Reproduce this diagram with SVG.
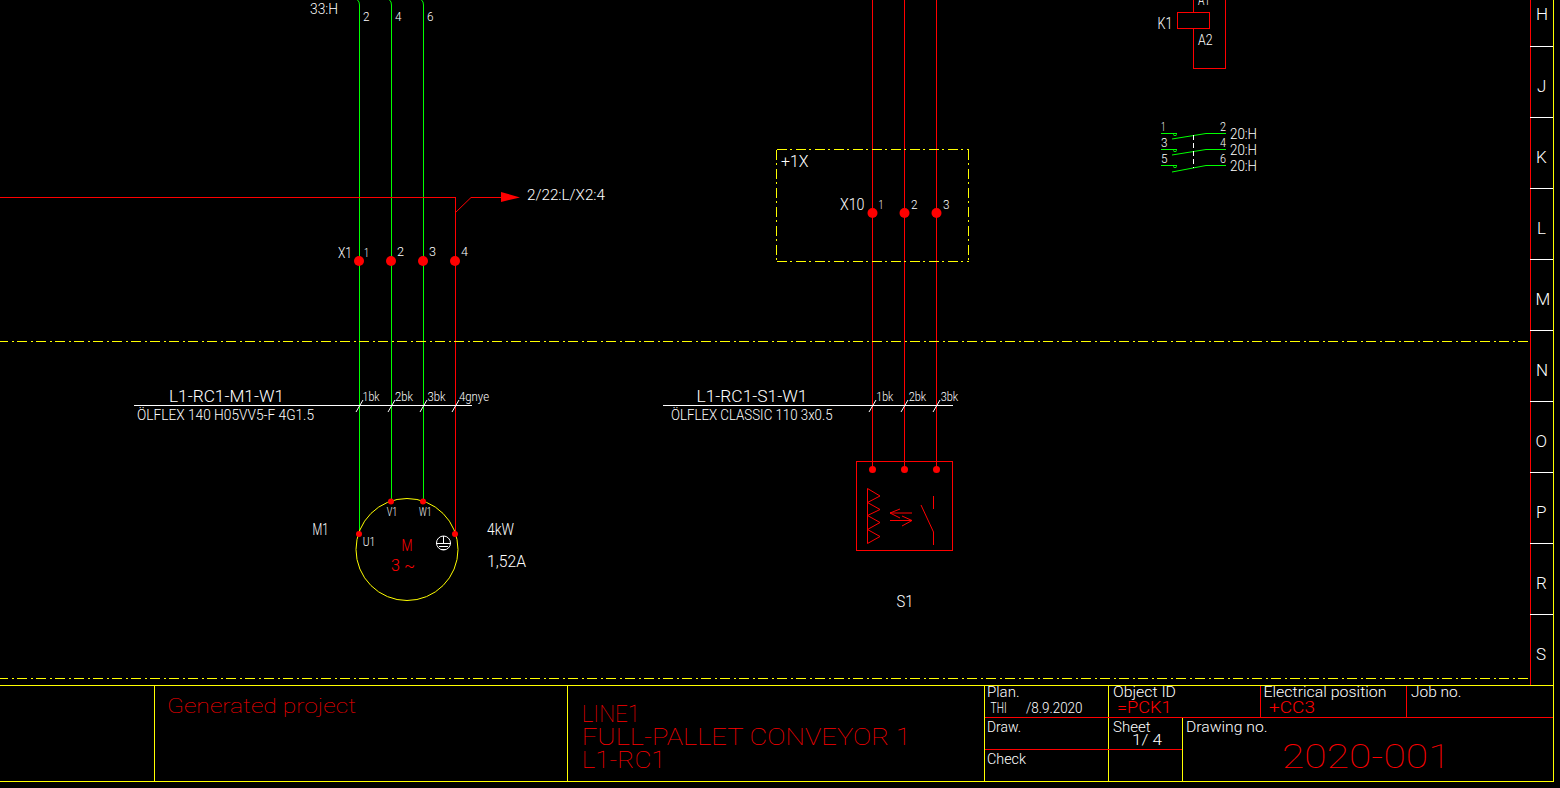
<svg xmlns="http://www.w3.org/2000/svg" width="1560" height="788" viewBox="0 0 1560 788">
<style>
line,path,rect,circle.o{fill:none;stroke-width:1;shape-rendering:crispEdges}
.r{stroke:#ff0000}.g{stroke:#00ff00}.y{stroke:#ffff00}.w{stroke:#ffffff}
.c{shape-rendering:auto}
.dd{stroke-dasharray:10 3.500 2 3.500}
.dot{fill:#ff0000}
text{font-family:Roboto,"Liberation Sans",Arial,sans-serif;font-weight:300;font-size:14px;fill:#ffffff}
.tr{fill:#ff0000}
.s12{font-size:12px}.s13{font-size:13px}.s17{font-size:17px}.s20{font-size:20px}.s23{font-size:23px}
.big{font-weight:100;font-size:34px;fill:#ff0000}
.thin{font-weight:100}
</style>
<rect width="1560" height="788" fill="#000000" style="fill:#000"/>
<g id="connectors">
<path class="g c" d="M357.500 0Q359.500 1.500 359.500 5V534"/>
<path class="g c" d="M389.500 0Q391.500 1.500 391.500 5V501"/>
<path class="g c" d="M421.500 0Q423.500 1.500 423.500 5V501"/>
<path class="r" d="M0 197.500H455.500V534"/>
<path class="r c" d="M455.500 212.500L471 197.500H503"/>
<polygon class="dot" points="501,192 520,197.500 501,202"/>
<line class="r" x1="872.500" y1="0" x2="872.500" y2="469"/>
<line class="r" x1="904.500" y1="0" x2="904.500" y2="469"/>
<line class="r" x1="936.500" y1="0" x2="936.500" y2="469"/>
<line class="y dd" x1="0" y1="341.500" x2="1530" y2="341.500" stroke-dashoffset="2"/>
<line class="y dd" x1="0" y1="678.500" x2="1530" y2="678.500" stroke-dashoffset="2"/>
</g>
<g id="X1">
<circle class="dot" cx="359" cy="261" r="5"/><circle class="dot" cx="391" cy="261" r="5"/><circle class="dot" cx="423" cy="261" r="5"/><circle class="dot" cx="455" cy="261" r="5"/>
<text x="310" y="14" textLength="28" lengthAdjust="spacingAndGlyphs">33:H</text>
<text class="s13" x="363" y="21" textLength="6.500" lengthAdjust="spacingAndGlyphs">2</text>
<text class="s13" x="395" y="21" textLength="6.500" lengthAdjust="spacingAndGlyphs">4</text>
<text class="s13" x="427" y="21" textLength="6.500" lengthAdjust="spacingAndGlyphs">6</text>
<text x="527" y="200" textLength="78" lengthAdjust="spacingAndGlyphs">2/22:L/X2:4</text>
<text x="338" y="258" textLength="14" lengthAdjust="spacingAndGlyphs">X1</text>
<text class="s13" x="364" y="257" textLength="5" lengthAdjust="spacingAndGlyphs">1</text>
<text class="s13" x="397" y="256" textLength="7" lengthAdjust="spacingAndGlyphs">2</text>
<text class="s13" x="429" y="256" textLength="7" lengthAdjust="spacingAndGlyphs">3</text>
<text class="s13" x="461" y="256" textLength="7" lengthAdjust="spacingAndGlyphs">4</text>
</g>
<g id="cable-M1">
<line class="w" x1="134" y1="405.500" x2="472" y2="405.500"/>
<line class="w c" x1="356" y1="412" x2="363" y2="400"/><line class="w c" x1="388" y1="412" x2="395" y2="400"/><line class="w c" x1="420" y1="412" x2="427" y2="400"/><line class="w c" x1="452" y1="412" x2="459" y2="400"/>
<text class="s17" x="169" y="402" textLength="115" lengthAdjust="spacingAndGlyphs">L1-RC1-M1-W1</text>
<text x="137" y="420" textLength="177" lengthAdjust="spacingAndGlyphs">ÖLFLEX 140 H05VV5-F 4G1.5</text>
<text class="s12" x="362.500" y="401" textLength="17" lengthAdjust="spacingAndGlyphs">1bk</text>
<text class="s12" x="395" y="401" textLength="18" lengthAdjust="spacingAndGlyphs">2bk</text>
<text class="s12" x="427.500" y="401" textLength="18" lengthAdjust="spacingAndGlyphs">3bk</text>
<text class="s12" x="459" y="401" textLength="30" lengthAdjust="spacingAndGlyphs">4gnye</text>
</g>
<g id="M1">
<circle class="y c" cx="407" cy="549.500" r="51" fill="none" stroke-width="1"/>
<circle class="dot" cx="359" cy="534" r="3"/><circle class="dot" cx="391" cy="501.500" r="3"/><circle class="dot" cx="423" cy="501.500" r="3"/><circle class="dot" cx="455" cy="534" r="3"/>
<text class="s13" x="386.700" y="516" textLength="10.500" lengthAdjust="spacingAndGlyphs">V1</text>
<text class="s13" x="419" y="516" textLength="12.500" lengthAdjust="spacingAndGlyphs">W1</text>
<text class="s13" x="362.700" y="546" textLength="12.500" lengthAdjust="spacingAndGlyphs">U1</text>
<text class="s17" x="312.500" y="535" textLength="16" lengthAdjust="spacingAndGlyphs">M1</text>
<text class="s17" x="487" y="535" textLength="27" lengthAdjust="spacingAndGlyphs">4kW</text>
<text class="s17" x="487" y="567" textLength="39" lengthAdjust="spacingAndGlyphs">1,52A</text>
<text class="s17 tr" x="401.500" y="551" textLength="11" lengthAdjust="spacingAndGlyphs">M</text>
<text class="s17 tr" x="391" y="571" textLength="24" lengthAdjust="spacingAndGlyphs">3 ~</text>
<circle class="w c" cx="443.500" cy="543" r="7" fill="none" stroke-width="1"/>
<line class="w" x1="443.500" y1="536" x2="443.500" y2="543"/><line class="w" x1="436" y1="543.500" x2="451" y2="543.500"/><line class="w" x1="439" y1="546.500" x2="448" y2="546.500"/><line class="w" x1="441" y1="549.500" x2="446" y2="549.500"/>
</g>
<g id="X10">
<path class="y dd" d="M776.500 149.500H968.500"/><path class="y dd" d="M776.500 149.500V261.500"/><path class="y dd" d="M776.500 261.500H968.500"/><path class="y dd" d="M968.500 149.500V261.500"/>
<circle class="dot" cx="872.500" cy="213" r="5"/><circle class="dot" cx="904.500" cy="213" r="5"/><circle class="dot" cx="936.500" cy="213" r="5"/>
<text class="s17" x="781" y="167" textLength="27.500" lengthAdjust="spacingAndGlyphs">+1X</text>
<text class="s17" x="840" y="209.500" textLength="24.500" lengthAdjust="spacingAndGlyphs">X10</text>
<text class="s13" x="878.500" y="209" textLength="5" lengthAdjust="spacingAndGlyphs">1</text>
<text class="s13" x="911" y="209" textLength="6.500" lengthAdjust="spacingAndGlyphs">2</text>
<text class="s13" x="943" y="209" textLength="6.500" lengthAdjust="spacingAndGlyphs">3</text>
</g>
<g id="cable-S1">
<line class="w" x1="663" y1="405.500" x2="953" y2="405.500"/>
<line class="w c" x1="869" y1="412" x2="876" y2="400"/><line class="w c" x1="901" y1="412" x2="908" y2="400"/><line class="w c" x1="933" y1="412" x2="940" y2="400"/>
<text class="s17" x="696.500" y="402" textLength="111" lengthAdjust="spacingAndGlyphs">L1-RC1-S1-W1</text>
<text x="671" y="420" textLength="161.500" lengthAdjust="spacingAndGlyphs">ÖLFLEX CLASSIC 110 3x0.5</text>
<text class="s12" x="876.300" y="401" textLength="17" lengthAdjust="spacingAndGlyphs">1bk</text>
<text class="s12" x="908.700" y="401" textLength="17.500" lengthAdjust="spacingAndGlyphs">2bk</text>
<text class="s12" x="940.700" y="401" textLength="17.500" lengthAdjust="spacingAndGlyphs">3bk</text>
</g>
<g id="S1">
<rect class="r" x="856.500" y="461.500" width="96" height="89"/>
<circle class="dot" cx="872.500" cy="469.500" r="3.500"/><circle class="dot" cx="904.500" cy="469.500" r="3.500"/><circle class="dot" cx="936.500" cy="469.500" r="3.500"/>
<path class="r c" d="M867.500 488.500V543.500M867.500 488.500L880 496L867.500 502.500L880 509.500L867.500 515.500L880 522.500L867.500 529.500L880 536.500L867.500 543.500"/>
<path class="r c" d="M912 513H890M890 513L900 509M890 513L900 518M890 520.500H912M912 520.500L902 516M912 520.500L902 526"/>
<path class="r c" d="M933.500 496V509M921 505L933.500 532V545"/>
<text class="s17" x="896.500" y="607" textLength="17" lengthAdjust="spacingAndGlyphs">S1</text>
</g>
<g id="K1">
<path class="r" d="M1193.500 0V12.500M1193.500 28.500V68.500H1225.500V0"/>
<rect class="r" x="1177.500" y="12.500" width="32" height="16"/>
<text class="s17" x="1157.500" y="28.500" textLength="15" lengthAdjust="spacingAndGlyphs">K1</text>
<text x="1198" y="5" textLength="12" lengthAdjust="spacingAndGlyphs">A1</text>
<text x="1198" y="45" textLength="14.500" lengthAdjust="spacingAndGlyphs">A2</text>
</g>
<g id="K1-contacts">
<path class="g" d="M1161 133.500H1177M1206 133.500H1226M1161 149.500H1177M1206 149.500H1226M1161 165.500H1177M1206 165.500H1226"/>
<path class="g c" d="M1172 139L1206 133.500M1172 155L1206 149.500M1172 172L1206 165.500"/>
<path class="g c" d="M1173 134.500Q1175 137 1177 134.500M1173 150.500Q1175 153 1177 150.500M1173 166.500Q1175 169 1177 166.500"/>
<line class="w" x1="1193.500" y1="135" x2="1193.500" y2="168" stroke-dasharray="5 3"/>
<text class="s13" x="1161" y="131" textLength="4.500" lengthAdjust="spacingAndGlyphs">1</text>
<text class="s13" x="1161" y="147" textLength="6.500" lengthAdjust="spacingAndGlyphs">3</text>
<text class="s13" x="1161" y="163" textLength="6.500" lengthAdjust="spacingAndGlyphs">5</text>
<text class="s13" x="1220" y="131" textLength="6" lengthAdjust="spacingAndGlyphs">2</text>
<text class="s13" x="1220" y="147" textLength="6" lengthAdjust="spacingAndGlyphs">4</text>
<text class="s13" x="1220" y="163" textLength="6" lengthAdjust="spacingAndGlyphs">6</text>
<text x="1230" y="138.500" textLength="27" lengthAdjust="spacingAndGlyphs">20:H</text>
<text x="1230" y="155" textLength="27" lengthAdjust="spacingAndGlyphs">20:H</text>
<text x="1230" y="171" textLength="27" lengthAdjust="spacingAndGlyphs">20:H</text>
</g>
<g id="row-strip">
<line class="r" x1="1530.500" y1="0" x2="1530.500" y2="685"/>
<line class="y" x1="1553.500" y1="0" x2="1553.500" y2="782"/>
<path class="w" d="M1530 46.500H1553M1530 117.500H1553M1530 188.500H1553M1530 259.500H1553M1530 330.500H1553M1530 401.500H1553M1530 472.500H1553M1530 543.500H1553M1530 614.500H1553"/>
<text class="s17" x="1536" y="20">H</text><text class="s17" x="1537" y="91.500">J</text><text class="s17" x="1536" y="162.500">K</text><text class="s17" x="1537" y="233.500">L</text><text class="s17" x="1535.500" y="304.500">M</text><text class="s17" x="1536" y="375.500">N</text><text class="s17" x="1535.500" y="446.500">O</text><text class="s17" x="1536" y="517.500">P</text><text class="s17" x="1536" y="588.500">R</text><text class="s17" x="1536" y="659.500">S</text>
</g>
<g id="title-block">
<path class="y" d="M0 685.500H1553M0 781.500H1553M154.500 685V781M567.500 685V781M984.500 685V781M1108.500 685V781M1182.500 717V781"/>
<path class="r" d="M985 717.500H1553M985 749.500H1182M1260.500 686V717M1406.500 686V717"/>
<text class="s20 tr thin" x="167" y="712.500" textLength="189" lengthAdjust="spacingAndGlyphs">Generated project</text>
<text class="s23 tr thin" x="581.700" y="721.500" textLength="58.500" lengthAdjust="spacingAndGlyphs">LINE1</text>
<text class="s23 tr thin" x="581.700" y="745.300" textLength="329" lengthAdjust="spacingAndGlyphs">FULL-PALLET CONVEYOR 1</text>
<text class="s23 tr thin" x="581.700" y="767.700" textLength="84" lengthAdjust="spacingAndGlyphs">L1-RC1</text>
<text x="987" y="697.300" textLength="32.500" lengthAdjust="spacingAndGlyphs">Plan.</text>
<text x="990.600" y="713.300" textLength="16" lengthAdjust="spacingAndGlyphs">THI</text>
<text x="1026" y="713.300" textLength="56.500" lengthAdjust="spacingAndGlyphs">/8.9.2020</text>
<text x="1113" y="697.300" textLength="63" lengthAdjust="spacingAndGlyphs">Object ID</text>
<text class="s17 tr" x="1117" y="712.700" textLength="54.500" lengthAdjust="spacingAndGlyphs">=PCK1</text>
<text x="1263.500" y="697.300" textLength="123" lengthAdjust="spacingAndGlyphs">Electrical position</text>
<text class="s17 tr" x="1269" y="712.700" textLength="46" lengthAdjust="spacingAndGlyphs">+CC3</text>
<text x="1411" y="697.300" textLength="50.500" lengthAdjust="spacingAndGlyphs">Job no.</text>
<text x="987" y="731.700" textLength="34" lengthAdjust="spacingAndGlyphs">Draw.</text>
<text x="1113" y="731.700" textLength="37.500" lengthAdjust="spacingAndGlyphs">Sheet</text>
<text x="1132" y="745" textLength="30" lengthAdjust="spacingAndGlyphs">1/ 4</text>
<text x="1186" y="731.700" textLength="81.500" lengthAdjust="spacingAndGlyphs">Drawing no.</text>
<text x="987" y="764" textLength="39" lengthAdjust="spacingAndGlyphs">Check</text>
<text class="big" x="1282" y="767.700" textLength="168.500" lengthAdjust="spacingAndGlyphs">2020-001</text>
</g>
</svg>
